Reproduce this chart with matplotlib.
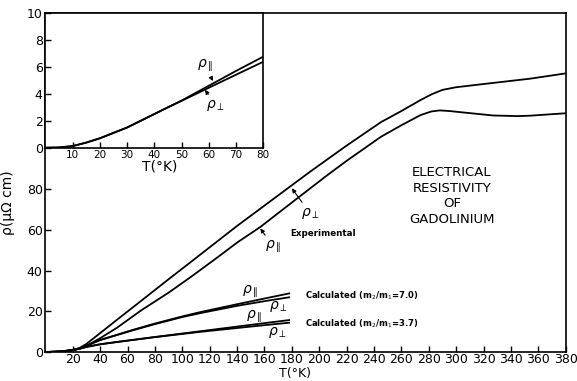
import numpy as np
import matplotlib
matplotlib.use("Agg")
import matplotlib.pyplot as plt

# Datos (T en K, rho en micro-ohm cm)
T_perp = [0, 10, 20, 25, 30, 40, 52, 70, 90, 108, 140, 160, 180, 193, 220, 245, 260,
          274, 282, 290, 300, 323, 354, 380]
rho_perp = [0, 0.2, 1.0, 2.0, 4.0, 9.3, 15.7, 25.2, 35.8, 45.2, 62.0, 72.0, 82.0, 88.5,
            101.5, 113.0, 118.5, 123.9, 126.7, 128.9, 130.2, 132.0, 134.4, 137.0]

T_par = [0, 10, 20, 25, 30, 40, 52, 70, 90, 106, 123, 140, 157, 180, 205, 220, 245, 260,
         274, 282, 288, 295, 305, 327, 345, 354, 380]
rho_par = [0, 0.2, 0.9, 1.7, 3.0, 6.8, 11.8, 20.5, 29.2, 36.8, 45.2, 53.8, 61.5, 73.5,
           86.5, 94.0, 105.8, 111.5, 116.5, 118.3, 118.8, 118.5, 117.8, 116.3, 116.0,
           116.2, 117.4]

# Calculados, m2/m1 = 7.0
T_c7 = [0, 10, 20, 25, 30, 40, 52, 64, 80, 100, 113, 140, 160, 178]
rho_c7_par = [0, 0.2, 0.9, 1.8, 3.1, 5.9, 8.4, 10.9, 14.0, 17.5, 19.6, 23.5, 26.3, 28.8]
rho_c7_perp = [0, 0.2, 0.9, 1.8, 3.1, 5.9, 8.3, 10.7, 13.7, 17.2, 19.1, 22.7, 25.0, 26.9]

# Calculados, m2/m1 = 3.7
T_c37 = [0, 10, 20, 25, 30, 40, 52, 80, 113, 140, 160, 178]
rho_c37_par = [0, 0.2, 0.9, 1.6, 2.5, 3.8, 4.9, 7.4, 10.2, 12.5, 14.2, 15.7]
rho_c37_perp = [0, 0.2, 0.9, 1.6, 2.5, 3.8, 4.9, 7.3, 9.9, 11.8, 13.2, 14.4]

# Recuadro (baja temperatura)
T_ins = [0, 5, 10, 15, 20, 25, 30, 35, 40, 45, 50, 60, 70, 80]
rho_ins_par = [0, 0.02, 0.12, 0.38, 0.7, 1.1, 1.5, 2.0, 2.5, 3.0, 3.5, 4.6, 5.7, 6.76]
rho_ins_perp = [0, 0.02, 0.12, 0.38, 0.7, 1.1, 1.5, 2.0, 2.5, 3.0, 3.48, 4.45, 5.42, 6.38]

plt.rcParams['font.family'] = 'DejaVu Sans'
lw = 1.3

fig = plt.figure(figsize=(5.77, 3.81), dpi=100)
ax = fig.add_axes([0.0787, 0.0761, 0.9017, 0.8898])
ax.set_xlim(0, 380)
ax.set_ylim(0, 166.7)

ax.plot(T_perp, rho_perp, color="black", lw=lw)
ax.plot(T_par, rho_par, color="black", lw=lw)
ax.plot(T_c7, rho_c7_par, color="black", lw=lw)
ax.plot(T_c7, rho_c7_perp, color="black", lw=lw)
ax.plot(T_c37, rho_c37_par, color="black", lw=lw)
ax.plot(T_c37, rho_c37_perp, color="black", lw=lw)

ax.set_xticks(np.arange(20, 381, 20))
ax.set_yticks([0, 20, 40, 60, 80])
ax.tick_params(direction="in", length=4, width=1, labelsize=9, pad=2)
ax.tick_params(axis="x", pad=1)
for s in ax.spines.values():
    s.set_linewidth(1.2)

ax.set_xlabel("T(°K)", fontsize=9, labelpad=0)
ax.xaxis.set_label_coords(0.48, -0.043)
ax.set_ylabel("ρ(μΩ cm)", fontsize=10)
ax.yaxis.set_label_coords(-0.058, 0.44)

arrow = dict(arrowstyle="-|>", color="black", lw=0.8, mutation_scale=6, shrinkA=1, shrinkB=0)
ax.annotate(r"$\rho_{\perp}$", xy=(180, 80.5), xytext=(193.5, 68), fontsize=10,
            ha="center", va="center", arrowprops=arrow)
ax.annotate(r"$\rho_{\parallel}$", xy=(157, 60.8), xytext=(166.5, 51.5), fontsize=10,
            ha="center", va="center", arrowprops=arrow)
ax.text(178.7, 58.5, "Experimental", fontsize=6.3, fontweight="bold", va="center")

ax.text(149.7, 29.5, r"$\rho_{\parallel}$", fontsize=10, ha="center", va="center")
ax.text(170, 22.3, r"$\rho_{\perp}$", fontsize=10, ha="center", va="center")
ax.text(152.5, 17.2, r"$\rho_{\parallel}$", fontsize=10, ha="center", va="center")
ax.text(169.3, 9.8, r"$\rho_{\perp}$", fontsize=10, ha="center", va="center")
ax.text(189.8, 27.7, r"Calculated (m$_2$/m$_1$=7.0)", fontsize=6.1, fontweight="bold",
        va="center")
ax.text(189.8, 14.1, r"Calculated (m$_2$/m$_1$=3.7)", fontsize=6.1, fontweight="bold",
        va="center")

ax.text(297, 76.6, "ELECTRICAL\nRESISTIVITY\nOF\nGADOLINIUM", fontsize=9.5,
        ha="center", va="center", linespacing=1.25)

# Recuadro
ins = fig.add_axes([0.0787, 0.6123, 0.3776, 0.3536])
ins.set_facecolor("white")
ins.set_xlim(0, 80)
ins.set_ylim(0, 10)
ins.plot(T_ins, rho_ins_par, color="black", lw=lw)
ins.plot(T_ins, rho_ins_perp, color="black", lw=lw)
ins.set_xticks(np.arange(10, 81, 10))
ins.set_yticks(np.arange(0, 11, 2))
ins.tick_params(axis="x", direction="in", length=4, width=1, labelsize=7.5, pad=2)
ins.tick_params(axis="y", direction="in", length=4, width=1, labelsize=9, pad=2)
for s in ins.spines.values():
    s.set_linewidth(1.2)
ins.set_xlabel("T(°K)", fontsize=10, labelpad=0)
ins.xaxis.set_label_coords(0.526, -0.09)

ins.annotate(r"$\rho_{\parallel}$", xy=(61.5, 4.95), xytext=(58.6, 6.1), fontsize=10,
             ha="center", va="center", arrowprops=arrow)
ins.annotate(r"$\rho_{\perp}$", xy=(58.6, 4.3), xytext=(62.6, 3.1), fontsize=10,
             ha="center", va="center", arrowprops=arrow)

fig.savefig("out.png", dpi=100)
